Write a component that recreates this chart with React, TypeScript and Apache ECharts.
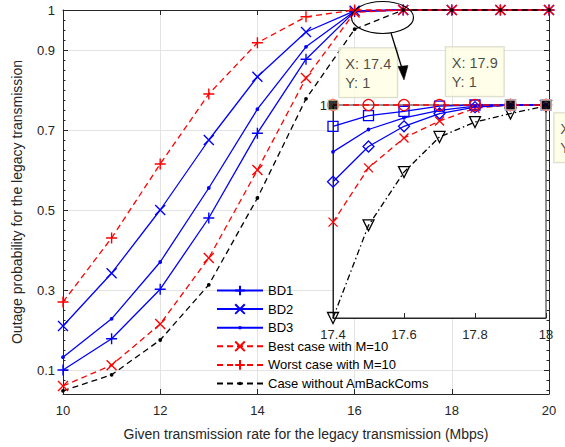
import React, { useEffect, useRef } from 'react';
import * as echarts from 'echarts';

// ---- main plot data ----
const rates = [10, 11, 12, 13, 14, 15, 16, 17, 18, 19, 20];
const bd1 = [0.1, 0.178, 0.302, 0.48, 0.692, 0.877, 0.996, 1, 1, 1, 1];
const bd2 = [0.21, 0.342, 0.5, 0.675, 0.833, 0.945, 0.998, 1, 1, 1, 1];
const bd3 = [0.132, 0.228, 0.37, 0.555, 0.752, 0.908, 0.997, 1, 1, 1, 1];
const bestCase = [0.06, 0.112, 0.215, 0.38, 0.6, 0.83, 0.994, 1, 1, 1, 1];
const worstCase = [0.27, 0.43, 0.615, 0.79, 0.918, 0.983, 1, 1, 1, 1, 1];
const noAmBack = [0.048, 0.088, 0.175, 0.313, 0.53, 0.778, 0.952, 1, 1, 1, 1];

// ---- inset (zoomed) data ----
const zoomRates = [17.4, 17.5, 17.6, 17.7, 17.8, 17.9, 18];
const zoomWorst = [1, 1, 1, 1, 1, 1, 1];
const zoomSquares = [0.9998, 0.9999, 0.99994, 0.99999, 1, 1, 1];
const zoomDots = [0.99956, 0.99977, 0.99988, 0.99995, 0.99999, 1, 1];
const zoomDiamonds = [0.99928, 0.99961, 0.9998, 0.99992, 0.99998, 1, 1];
const zoomBest = [0.9989, 0.99941, 0.99969, 0.99985, 0.99997, 1, 1];
const zoomNoAmBack = [0.998, 0.99887, 0.99937, 0.9997, 0.99984, 0.99992, 0.99999];

// ---- data tips ----
const tipRates = [17.4, 17.9, 18];
const tipValues = [1, 1, 1];

// ---- ticks ----
const yTickValues = [0.1, 0.3, 0.5, 0.7, 0.9, 1];
const insetYTickValues = [1];

const FONT = 'Arial, "Liberation Sans", Helvetica, sans-serif';
const AX = '#262626';
const GRID = '#e3e3e3';
const BLUE = '#0000ff';
const RED = '#ff0000';

const PLUS = 'path://M0,5L10,5M5,0L5,10';
const CROSS = 'path://M0,0L10,10M10,0L0,10';
const SQUARE = 'path://M0,0L10,0L10,10L0,10Z';
const DIAMOND = 'path://M5,0L10,5L5,10L0,5Z';
const TRI_DOWN = 'path://M0,0L10,0L5,9Z';
// small dot inside an invisible 10x10 box (so the legend keeps it small)
const DOT = 'path://M0,0M10,10M3.1,5A1.9,1.9,0,1,0,6.9,5A1.9,1.9,0,1,0,3.1,5Z';

const pairs = (xs: number[], ys: number[]) => xs.map((x, i) => [x, ys[i]]);

const minorTicks: number[] = [];
for (let k = 2; k <= 40; k++) minorTicks.push(+(k * 0.025).toFixed(3));

function mainSeries(name: string, ys: number[], color: string, dashed: boolean, symbol: string, size: number, filled = false) {
  return {
    name,
    type: 'line',
    xAxisIndex: 0,
    yAxisIndex: 0,
    data: pairs(rates, ys),
    symbol,
    symbolSize: size,
    showSymbol: true,
    clip: false,
    z: 2,
    lineStyle: { color, width: 1.3, type: dashed ? [6, 4] : 'solid' },
    itemStyle: filled
      ? { color, borderWidth: 0 }
      : { color, borderColor: color, borderWidth: 1.4 },
    emphasis: { disabled: true },
  };
}

function insetSeries(ys: number[], color: string, lineType: any, symbol: string, size: number, filled = false) {
  return {
    type: 'line',
    xAxisIndex: 2,
    yAxisIndex: 4,
    data: pairs(zoomRates, ys),
    symbol,
    symbolSize: size,
    showSymbol: true,
    clip: false,
    z: 4,
    lineStyle: { color, width: 1.3, type: lineType },
    itemStyle: filled
      ? { color, borderWidth: 0 }
      : { color: 'rgba(0,0,0,0)', borderColor: color, borderWidth: 1.3 },
    emphasis: { disabled: true },
  };
}

export default function App() {
  const ref = useRef<HTMLDivElement>(null);

  useEffect(() => {
    if (!ref.current) return;
    const chart = echarts.init(ref.current, undefined, { renderer: 'svg' });

    const tipPositions: any[] = [
      [12, -51],
      [-59, -52],
      [14, 14],
    ];

    const option: any = {
      animation: false,
      backgroundColor: '#ffffff',
      textStyle: { fontFamily: FONT },
      grid: [
        { left: 63, top: 10, width: 486, height: 384, show: false },
        {
          left: 333, top: 105, width: 213, height: 213, show: true, z: 1,
          backgroundColor: '#ffffff', borderColor: AX, borderWidth: 1,
        },
      ],
      xAxis: [
        {
          type: 'value', gridIndex: 0, min: 10, max: 20, interval: 2,
          axisLine: { show: true, lineStyle: { color: AX, width: 1 } },
          axisTick: { show: true, inside: true, length: 5, lineStyle: { color: AX } },
          axisLabel: { color: AX, fontSize: 13, margin: 10, fontFamily: FONT },
          splitLine: { show: true, lineStyle: { color: GRID, width: 1 } },
          name: 'Given transmission rate for the legacy transmission (Mbps)',
          nameLocation: 'middle', nameGap: 33,
          nameTextStyle: { color: AX, fontSize: 14, fontFamily: FONT },
        },
        {
          type: 'value', gridIndex: 0, position: 'top', min: 10, max: 20, interval: 2,
          axisLine: { show: true, lineStyle: { color: AX, width: 1 } },
          axisTick: { show: true, inside: true, length: 5, lineStyle: { color: AX } },
          axisLabel: { show: false },
          splitLine: { show: false },
        },
        {
          type: 'value', gridIndex: 1, min: 17.4, max: 18, interval: 0.2, z: 3,
          axisLine: { show: true, lineStyle: { color: AX, width: 1 } },
          axisTick: { show: true, inside: true, length: 5, lineStyle: { color: AX } },
          axisLabel: { color: AX, fontSize: 13, margin: 10, fontFamily: FONT },
          splitLine: { show: false },
        },
      ],
      yAxis: [
        {
          type: 'value', gridIndex: 0, min: 0.04, max: 1,
          axisLine: { show: true, lineStyle: { color: AX, width: 1 } },
          axisTick: { show: true, inside: true, length: 5, customValues: yTickValues, lineStyle: { color: AX } },
          axisLabel: { color: AX, fontSize: 13, margin: 8, customValues: yTickValues, fontFamily: FONT },
          splitLine: { show: true, lineStyle: { color: GRID, width: 1 } },
          name: 'Outage probability for the legacy transmission',
          nameLocation: 'middle', nameGap: 39, nameRotate: 90,
          nameTextStyle: { color: AX, fontSize: 14, fontFamily: FONT },
        },
        {
          type: 'value', gridIndex: 0, position: 'right', min: 0.04, max: 1,
          axisLine: { show: true, lineStyle: { color: AX, width: 1 } },
          axisTick: { show: true, inside: true, length: 5, customValues: yTickValues, lineStyle: { color: AX } },
          axisLabel: { show: false },
          splitLine: { show: false },
        },
        {
          type: 'value', gridIndex: 0, position: 'left', min: 0.04, max: 1,
          axisLine: { show: false },
          axisTick: { show: true, inside: true, length: 2.5, customValues: minorTicks, lineStyle: { color: AX } },
          axisLabel: { show: false },
          splitLine: { show: false },
        },
        {
          type: 'value', gridIndex: 0, position: 'right', min: 0.04, max: 1,
          axisLine: { show: false },
          axisTick: { show: true, inside: true, length: 2.5, customValues: minorTicks, lineStyle: { color: AX } },
          axisLabel: { show: false },
          splitLine: { show: false },
        },
        {
          type: 'value', gridIndex: 1, min: 0.998, max: 1, z: 3,
          axisLine: { show: true, lineStyle: { color: AX, width: 1 } },
          axisTick: { show: true, inside: true, length: 5, customValues: insetYTickValues, lineStyle: { color: AX } },
          axisLabel: { color: AX, fontSize: 13, margin: 6, customValues: insetYTickValues, fontFamily: FONT },
          splitLine: { show: false },
        },
      ],
      legend: {
        orient: 'vertical', left: 211, top: 279, z: 6,
        itemWidth: 46, itemHeight: 12, itemGap: 5.6,
        textStyle: { color: '#000', fontSize: 13, fontFamily: FONT },
        data: ['BD1', 'BD2', 'BD3', 'Best case with M=10', 'Worst case with M=10', 'Case without AmBackComs'],
      },
      series: [
        mainSeries('BD1', bd1, BLUE, false, PLUS, 11),
        mainSeries('BD2', bd2, BLUE, false, CROSS, 10),
        mainSeries('BD3', bd3, BLUE, false, DOT, 10, true),
        mainSeries('Best case with M=10', bestCase, RED, true, CROSS, 10),
        mainSeries('Worst case with M=10', worstCase, RED, true, PLUS, 11),
        mainSeries('Case without AmBackComs', noAmBack, '#000000', true, DOT, 10, true),
        insetSeries(zoomNoAmBack, '#000000', [6, 3, 1.5, 3], TRI_DOWN, 11),
        insetSeries(zoomBest, RED, [6, 4], CROSS, 9),
        insetSeries(zoomDiamonds, BLUE, 'solid', DIAMOND, 11),
        insetSeries(zoomDots, BLUE, 'solid', DOT, 10, true),
        insetSeries(zoomSquares, BLUE, 'solid', SQUARE, 10),
        insetSeries(zoomWorst, RED, [6, 4], 'circle', 11),
        {
          type: 'scatter',
          xAxisIndex: 2,
          yAxisIndex: 4,
          z: 5,
          clip: false,
          symbol: 'rect',
          symbolSize: 10,
          itemStyle: { color: '#000000', borderColor: '#efe9bf', borderWidth: 1.5 },
          emphasis: { disabled: true },
          data: tipRates.map((x, i) => ({
            value: [x, tipValues[i]],
            label: {
              show: true,
              position: tipPositions[i],
              formatter: `X: ${x}\nY: ${tipValues[i]}`,
              align: 'left',
              verticalAlign: 'top',
              fontSize: 14.5,
              lineHeight: 19,
              fontFamily: FONT,
              color: '#1a1a1a',
              backgroundColor: '#ffffe4',
              borderColor: '#cfcfbc',
              borderWidth: 1,
              padding: [6, 6, 5, 6],
            },
          })),
        },
      ],
      graphic: [
        {
          type: 'ellipse', z: 10, silent: true,
          shape: { cx: 382.5, cy: 17.5, rx: 31, ry: 16 },
          style: { fill: 'none', stroke: '#000', lineWidth: 1.2 },
        },
        {
          type: 'line', z: 10, silent: true,
          shape: { x1: 391, y1: 33, x2: 402.5, y2: 70 },
          style: { stroke: '#000', lineWidth: 1.3 },
        },
        {
          type: 'polygon', z: 10, silent: true,
          shape: { points: [[404, 80], [398, 66.5], [408, 65.5]] },
          style: { fill: '#000', stroke: '#000', lineWidth: 0.5 },
        },
      ],
    };

    chart.setOption(option);
    return () => chart.dispose();
  }, []);

  return (
    <div
      ref={ref}
      style={{ position: 'absolute', left: 0, top: 0, width: 565, height: 447 }}
    />
  );
}
